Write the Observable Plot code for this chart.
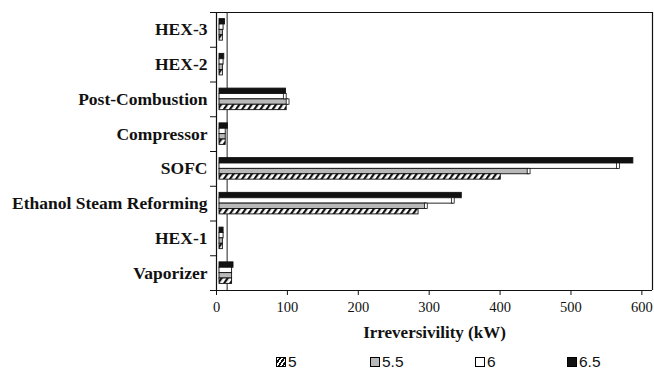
<!DOCTYPE html>
<html><head><meta charset="utf-8">
<script src="https://cdn.jsdelivr.net/npm/d3@7"></script>
<script src="https://cdn.jsdelivr.net/npm/@observablehq/plot@0.6"></script>
<style>
body{margin:0;background:#fff;}
#chart{position:relative;width:654px;height:373px;overflow:hidden;}
.legend{position:absolute;top:353px;left:0;width:654px;height:20px;font:15.5px "Liberation Sans",sans-serif;color:#111;}
.item{position:absolute;top:0;display:flex;align-items:center;gap:2px;line-height:18px;}
.sw{width:10px;height:10px;border:1px solid #000;box-sizing:border-box;}
</style></head><body><div id="chart"></div>
<script>
const categories = ["HEX-3","HEX-2","Post-Combustion","Compressor","SOFC","Ethanol Steam Reforming","HEX-1","Vaporizer"];
const series = ["6.5","6","5.5","5"];            // order within each group, top to bottom
const v5   = [9, 9, 99, 13, 401, 285, 9, 22];
const v55  = [9, 9, 101, 13, 441, 296, 9, 22];
const v6   = [10, 10, 97, 13, 567, 334, 10, 22];
const v65  = [12, 11, 98, 16, 588, 346, 10, 24];
const errHalf = [0, 0, 2, 0, 2, 2, 0, 0];         // small error boxes on the 6 and 5.5 series
const xTicks = [0, 100, 200, 300, 400, 500, 600];
const xLabel = "Irreversivility (kW)";
const legendSeries = ["5","5.5","6","6.5"];

const valuesBySeries = {"5": v5, "5.5": v55, "6": v6, "6.5": v65};
const pad = 0.19, bw = (1 - 2 * pad) / series.length;
const rows = [];
categories.forEach((c, i) => {
  series.forEach((s, j) => {
    const y1 = i + pad + j * bw;
    rows.push({category: c, series: s, value: valuesBySeries[s][i], y1, y2: y1 + bw, err: (s === "6" || s === "5.5") ? errHalf[i] : 0});
  });
});
const errRows = rows.filter(d => d.err > 0);

const defs = () => {
  const d = d3.create("svg:defs");
  const p = d.append("pattern").attr("id", "hatch").attr("patternUnits", "userSpaceOnUse")
    .attr("width", 5).attr("height", 5).attr("patternTransform", "rotate(35)");
  p.append("rect").attr("width", 5).attr("height", 5).attr("fill", "#fff");
  p.append("rect").attr("width", 2.2).attr("height", 5).attr("fill", "#111");
  return d.node();
};

const serif = "'Liberation Serif', 'Times New Roman', serif";
const chart = Plot.plot({
  width: 654,
  height: 350,
  marginLeft: 216,
  marginRight: 2,
  marginTop: 12,
  marginBottom: 60,
  style: {fontFamily: serif, fontSize: "14px", color: "#111", background: "#fff"},
  x: {domain: [0, 615], label: null},
  y: {domain: [0, categories.length], reverse: true, label: null},
  color: {domain: series, range: ["#111", "#fff", "#b9b9b9", "url(#hatch)"]},
  marks: [
    defs,
    Plot.ruleX([15], {stroke: "#222", strokeWidth: 1}),
    Plot.rect(rows, {x1: 0, x2: "value", y1: "y1", y2: "y2", fill: "series", stroke: "#111", strokeWidth: 0.9, insetLeft: 3}),
    Plot.rect(errRows, {x1: d => d.value - d.err, x2: d => d.value + d.err, y1: "y1", y2: "y2", fill: "#fff", stroke: "#111", strokeWidth: 0.8}),
    Plot.ruleY([0], {stroke: "#111", strokeWidth: 1.2}),
    Plot.ruleX([615], {stroke: "#111", strokeWidth: 1.2}),
    Plot.axisY({ticks: d3.range(categories.length + 1), tickSize: 6, tickFormat: () => "", strokeWidth: 1}),
    Plot.axisY({ticks: categories.map((c, i) => i + 0.5), tickSize: 0, tickPadding: 9,
      tickFormat: d => categories[Math.floor(d)], fontWeight: "bold", fontSize: 17.5, fontFamily: serif}),
    Plot.ruleX([0], {stroke: "#111", strokeWidth: 1.2}),
    Plot.ruleY([categories.length], {stroke: "#111", strokeWidth: 1.2}),
    Plot.axisX({ticks: xTicks, tickSize: 5, tickPadding: 6, label: null, fontSize: 14.5, fontFamily: serif}),
    Plot.text([xLabel], {frameAnchor: "bottom", dy: 47, fontWeight: "bold", fontSize: 17, fontFamily: serif, fill: "#111"})
  ]
});
const root = document.getElementById("chart");
root.appendChild(chart);

const legend = document.createElement("div");
legend.className = "legend";
const legendX = {"5": 276, "5.5": 370, "6": 475, "6.5": 567};
const swatchFill = {
  "5": "repeating-linear-gradient(125deg, #fff 0 1.6px, #111 1.6px 3.4px)",
  "5.5": "#b9b9b9", "6": "#fff", "6.5": "#111"
};
legendSeries.forEach(s => {
  const it = document.createElement("div");
  it.className = "item";
  it.style.left = legendX[s] + "px";
  const sw = document.createElement("span");
  sw.className = "sw";
  sw.style.background = swatchFill[s];
  const t = document.createElement("span");
  t.textContent = s;
  it.appendChild(sw); it.appendChild(t);
  legend.appendChild(it);
});
root.appendChild(legend);
</script></body></html>
